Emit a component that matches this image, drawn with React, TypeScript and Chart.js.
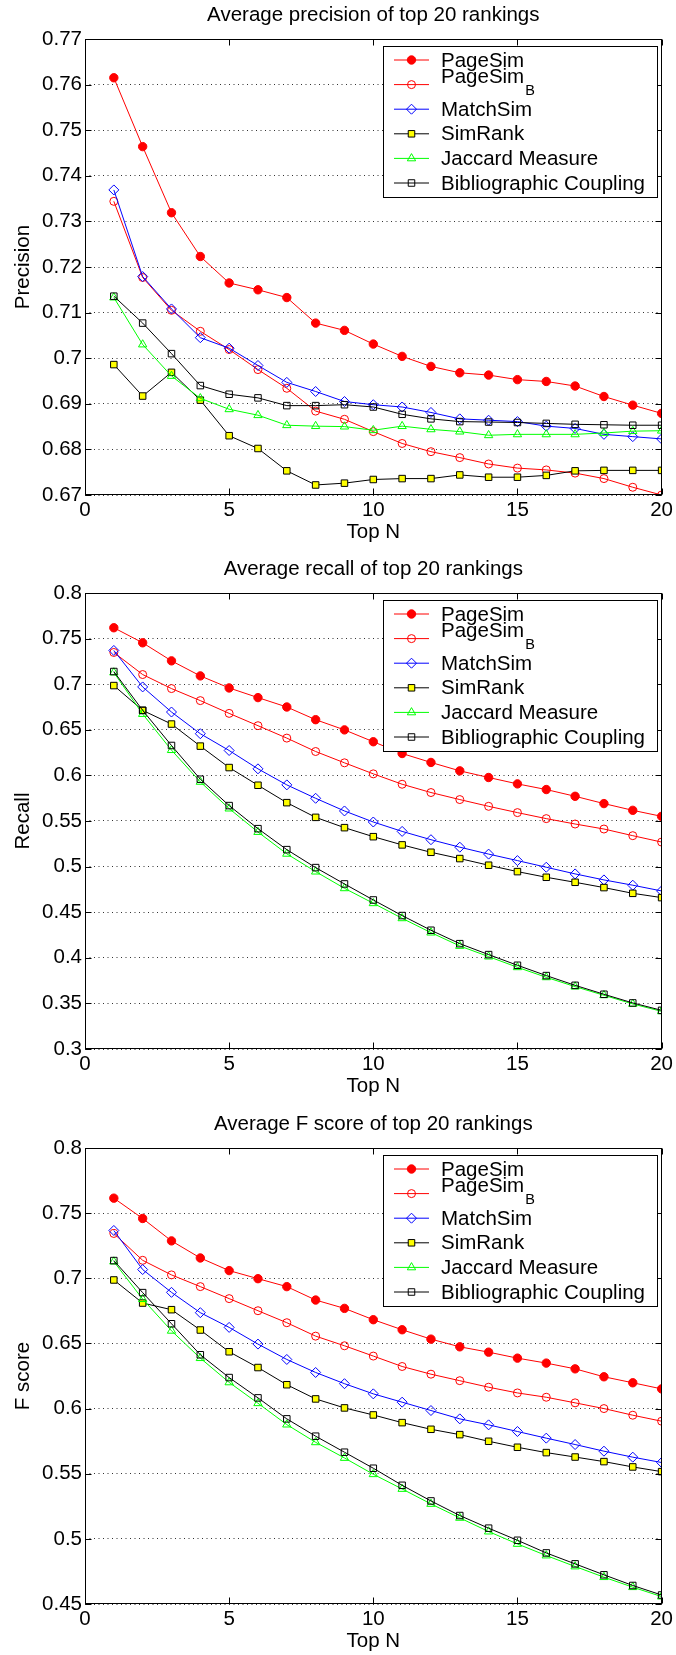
import React, { useEffect, useRef } from 'react';
import { Chart, registerables } from 'chart.js';

Chart.register(...registerables);

const FONT = '"Liberation Sans", Arial, Helvetica, sans-serif';
Chart.defaults.font.family = FONT;
Chart.defaults.color = '#000';

// ---------- data ----------
const topN = [1, 2, 3, 4, 5, 6, 7, 8, 9, 10, 11, 12, 13, 14, 15, 16, 17, 18, 19, 20];
const xTicks = [0, 5, 10, 15, 20];

const seriesNames = ['PageSim', 'PageSimB', 'MatchSim', 'SimRank', 'Jaccard Measure', 'Bibliographic Coupling'];

const precisionPageSim = [0.7615, 0.7464, 0.7319, 0.7223, 0.7165, 0.7150, 0.7133, 0.7077, 0.7061, 0.7031, 0.7004, 0.6982, 0.6968, 0.6963, 0.6953, 0.6949, 0.6939, 0.6916, 0.6897, 0.6879];
const precisionPageSimB = [0.7344, 0.7177, 0.7105, 0.7059, 0.7019, 0.6975, 0.6934, 0.6884, 0.6866, 0.6839, 0.6813, 0.6795, 0.6782, 0.6768, 0.6759, 0.6755, 0.6748, 0.6736, 0.6717, 0.6700];
const precisionMatchSim = [0.7369, 0.7179, 0.7108, 0.7045, 0.7022, 0.6984, 0.6947, 0.6927, 0.6905, 0.6898, 0.6893, 0.6881, 0.6867, 0.6864, 0.6861, 0.6851, 0.6846, 0.6833, 0.6828, 0.6823];
const precisionSimRank = [0.6986, 0.6917, 0.6969, 0.6908, 0.6830, 0.6802, 0.6753, 0.6722, 0.6726, 0.6734, 0.6736, 0.6736, 0.6744, 0.6739, 0.6739, 0.6743, 0.6753, 0.6754, 0.6754, 0.6754];
const precisionJaccard = [0.7133, 0.7030, 0.6961, 0.6912, 0.6888, 0.6875, 0.6853, 0.6851, 0.6850, 0.6842, 0.6851, 0.6844, 0.6839, 0.6831, 0.6833, 0.6833, 0.6833, 0.6836, 0.6840, 0.6841];
const precisionBibCoupling = [0.7136, 0.7077, 0.7010, 0.6940, 0.6921, 0.6913, 0.6896, 0.6896, 0.6898, 0.6893, 0.6877, 0.6867, 0.6861, 0.6860, 0.6859, 0.6857, 0.6855, 0.6854, 0.6853, 0.6853];

const recallPageSim = [0.7619, 0.7454, 0.7256, 0.7091, 0.6959, 0.6853, 0.6750, 0.6611, 0.6499, 0.6369, 0.6240, 0.6142, 0.6050, 0.5977, 0.5907, 0.5845, 0.5771, 0.5691, 0.5617, 0.5551];
const recallPageSimB = [0.7348, 0.7106, 0.6952, 0.6820, 0.6680, 0.6545, 0.6409, 0.6262, 0.6138, 0.6017, 0.5903, 0.5812, 0.5735, 0.5661, 0.5592, 0.5526, 0.5467, 0.5412, 0.5339, 0.5269];
const recallMatchSim = [0.7370, 0.6970, 0.6695, 0.6457, 0.6273, 0.6072, 0.5896, 0.5749, 0.5610, 0.5489, 0.5386, 0.5295, 0.5213, 0.5137, 0.5066, 0.4993, 0.4920, 0.4854, 0.4796, 0.4733];
const recallSimRank = [0.6985, 0.6713, 0.6563, 0.6321, 0.6086, 0.5892, 0.5701, 0.5540, 0.5427, 0.5328, 0.5238, 0.5157, 0.5088, 0.5015, 0.4945, 0.4883, 0.4828, 0.4770, 0.4707, 0.4660];
const recallJaccard = [0.7128, 0.6673, 0.6277, 0.5929, 0.5636, 0.5379, 0.5140, 0.4945, 0.4762, 0.4598, 0.4433, 0.4276, 0.4130, 0.4013, 0.3896, 0.3786, 0.3684, 0.3589, 0.3494, 0.3413];
const recallBibCoupling = [0.7139, 0.6713, 0.6328, 0.5958, 0.5669, 0.5416, 0.5186, 0.4989, 0.4810, 0.4634, 0.4463, 0.4302, 0.4155, 0.4035, 0.3918, 0.3805, 0.3698, 0.3600, 0.3505, 0.3424];

const fscorePageSim = [0.7615, 0.7459, 0.7287, 0.7156, 0.7059, 0.6997, 0.6936, 0.6833, 0.6769, 0.6682, 0.6605, 0.6533, 0.6474, 0.6433, 0.6387, 0.6349, 0.6305, 0.6244, 0.6198, 0.6151];
const fscorePageSimB = [0.7344, 0.7138, 0.7026, 0.6936, 0.6844, 0.6751, 0.6659, 0.6556, 0.6482, 0.6403, 0.6323, 0.6264, 0.6214, 0.6164, 0.6120, 0.6087, 0.6044, 0.6000, 0.5949, 0.5903];
const fscoreMatchSim = [0.7367, 0.7067, 0.6892, 0.6736, 0.6623, 0.6495, 0.6377, 0.6277, 0.6191, 0.6113, 0.6049, 0.5985, 0.5921, 0.5875, 0.5824, 0.5773, 0.5724, 0.5673, 0.5627, 0.5586];
const fscoreSimRank = [0.6987, 0.6810, 0.6759, 0.6603, 0.6436, 0.6315, 0.6183, 0.6074, 0.6005, 0.5951, 0.5892, 0.5841, 0.5800, 0.5749, 0.5703, 0.5662, 0.5628, 0.5593, 0.5552, 0.5516];
const fscoreJaccard = [0.7128, 0.6840, 0.6597, 0.6387, 0.6201, 0.6041, 0.5877, 0.5741, 0.5621, 0.5496, 0.5383, 0.5268, 0.5161, 0.5056, 0.4961, 0.4872, 0.4788, 0.4706, 0.4629, 0.4557];
const fscoreBibCoupling = [0.7136, 0.6890, 0.6651, 0.6413, 0.6238, 0.6082, 0.5921, 0.5788, 0.5665, 0.5542, 0.5411, 0.5291, 0.5179, 0.5082, 0.4989, 0.4892, 0.4808, 0.4724, 0.4642, 0.4569];

const precisionTicks = [0.67, 0.68, 0.69, 0.7, 0.71, 0.72, 0.73, 0.74, 0.75, 0.76, 0.77];
const recallTicks = [0.3, 0.35, 0.4, 0.45, 0.5, 0.55, 0.6, 0.65, 0.7, 0.75, 0.8];
const fscoreTicks = [0.45, 0.5, 0.55, 0.6, 0.65, 0.7, 0.75, 0.8];

const panels = [
  {
    title: 'Average precision of top 20 rankings',
    yLabel: 'Precision',
    ticks: precisionTicks,
    series: [precisionPageSim, precisionPageSimB, precisionMatchSim, precisionSimRank, precisionJaccard, precisionBibCoupling],
  },
  {
    title: 'Average recall of top 20 rankings',
    yLabel: 'Recall',
    ticks: recallTicks,
    series: [recallPageSim, recallPageSimB, recallMatchSim, recallSimRank, recallJaccard, recallBibCoupling],
  },
  {
    title: 'Average F score of top 20 rankings',
    yLabel: 'F score',
    ticks: fscoreTicks,
    series: [fscorePageSim, fscorePageSimB, fscoreMatchSim, fscoreSimRank, fscoreJaccard, fscoreBibCoupling],
  },
];

// ---------- styles ----------
const NONE = 'rgba(0,0,0,0)';
const styles = [
  { color: '#ff0000', point: 'circle', radius: 4.2, fill: '#ff0000' },
  { color: '#ff0000', point: 'circle', radius: 4, fill: NONE },
  { color: '#0000ff', point: 'rectRot', radius: 5, fill: NONE },
  { color: '#000000', point: 'rect', radius: 4.6, fill: '#ffff00' },
  { color: '#00ff00', point: 'triangle', radius: 4.8, fill: NONE },
  { color: '#000000', point: 'rect', radius: 4.6, fill: NONE },
];

const CANVAS_W = 676;
const CANVAS_H = 554;
const panelTops = [0, 554, 1109];

function drawMarker(ctx: CanvasRenderingContext2D, kind: string, x: number, y: number, r: number, fill: string, stroke: string) {
  ctx.beginPath();
  if (kind === 'circle') {
    ctx.arc(x, y, r, 0, Math.PI * 2);
  } else if (kind === 'rectRot') {
    ctx.moveTo(x, y - r);
    ctx.lineTo(x + r, y);
    ctx.lineTo(x, y + r);
    ctx.lineTo(x - r, y);
    ctx.closePath();
  } else if (kind === 'rect') {
    const s = Math.SQRT1_2 * r;
    ctx.rect(x - s, y - s, 2 * s, 2 * s);
  } else if (kind === 'triangle') {
    let a = 0;
    ctx.moveTo(x + Math.sin(a) * r, y - Math.cos(a) * r);
    a += (2 * Math.PI) / 3;
    ctx.lineTo(x + Math.sin(a) * r, y - Math.cos(a) * r);
    a += (2 * Math.PI) / 3;
    ctx.lineTo(x + Math.sin(a) * r, y - Math.cos(a) * r);
    ctx.closePath();
  }
  ctx.fillStyle = fill;
  ctx.fill();
  ctx.lineWidth = 1;
  ctx.strokeStyle = stroke;
  ctx.stroke();
}

const framePlugin = {
  id: 'matlabFrame',
  afterDraw(chart: any) {
    const { ctx, chartArea: a, scales } = chart;
    ctx.save();
    ctx.strokeStyle = '#000';
    ctx.lineWidth = 1;
    const L = Math.round(a.left) + 0.5;
    const R = Math.round(a.right) - 0.5;
    const T = Math.round(a.top) + 0.5;
    const B = Math.round(a.bottom) - 0.5;
    ctx.strokeRect(L, T, R - L, B - T);
    const tl = 6;
    ctx.beginPath();
    scales.y.ticks.forEach((t: any) => {
      const py = Math.round(scales.y.getPixelForValue(t.value)) + 0.5;
      ctx.moveTo(L, py); ctx.lineTo(L + tl, py);
      ctx.moveTo(R, py); ctx.lineTo(R - tl, py);
    });
    scales.x.ticks.forEach((t: any) => {
      const px = Math.round(scales.x.getPixelForValue(t.value)) + 0.5;
      ctx.moveTo(px, B); ctx.lineTo(px, B - tl);
      ctx.moveTo(px, T); ctx.lineTo(px, T + tl);
    });
    ctx.stroke();

    // legend
    const bx = 383.5, by = Math.round(a.top) + 7.5, bw = 274, bh = 151;
    ctx.fillStyle = '#fff';
    ctx.fillRect(bx, by, bw, bh);
    ctx.strokeStyle = '#000';
    ctx.strokeRect(bx, by, bw, bh);
    const big = `20.5px ${FONT}`;
    const small = `14.5px ${FONT}`;
    seriesNames.forEach((name, i) => {
      const st = styles[i];
      const cy = by + 13.5 + 24.6 * i;
      ctx.beginPath();
      ctx.strokeStyle = st.color;
      ctx.lineWidth = 1;
      ctx.moveTo(394, cy); ctx.lineTo(429, cy);
      ctx.stroke();
      drawMarker(ctx, st.point, 411.5, cy, st.radius, st.fill === NONE ? NONE : st.fill, st.color);
      ctx.fillStyle = '#000';
      ctx.textBaseline = 'middle';
      ctx.textAlign = 'left';
      if (name === 'PageSimB') {
        ctx.font = big;
        ctx.fillText('PageSim', 441, cy - 7.5);
        const w = ctx.measureText('PageSim').width;
        ctx.font = small;
        ctx.fillText('B', 441 + w + 1, cy + 6);
      } else {
        ctx.font = big;
        ctx.fillText(name, 441, cy + 1);
      }
    });
    ctx.restore();
  },
};

function Panel({ index }: { index: number }) {
  const ref = useRef<HTMLCanvasElement | null>(null);
  useEffect(() => {
    const p = panels[index];
    const yMin = p.ticks[0];
    const yMax = p.ticks[p.ticks.length - 1];
    const datasets = p.series.map((vals, i) => {
      const st = styles[i];
      return {
        label: seriesNames[i],
        data: vals.map((v, k) => ({ x: topN[k], y: v })),
        borderColor: st.color,
        borderWidth: 1,
        pointStyle: st.point,
        pointRadius: st.radius,
        pointBorderWidth: 1,
        pointBorderColor: st.color,
        pointBackgroundColor: st.fill,
        tension: 0,
        fill: false,
        order: 6 - i,
      };
    });
    const chart = new Chart(ref.current as HTMLCanvasElement, {
      type: 'line',
      data: { datasets } as any,
      options: {
        animation: false,
        responsive: false,
        devicePixelRatio: 1,
        events: [],
        layout: { padding: { left: 0, right: 13, top: 0, bottom: 0 } },
        plugins: {
          legend: { display: false },
          tooltip: { enabled: false },
          title: {
            display: true,
            text: p.title,
            fullSize: false,
            color: '#000',
            font: { size: 20.5, weight: 'normal', family: FONT },
            padding: { top: 2.7, bottom: 11.7 },
          },
        },
        scales: {
          x: {
            type: 'linear',
            min: 0,
            max: 20,
            afterBuildTicks: (s: any) => { s.ticks = xTicks.map((v) => ({ value: v })); },
            afterFit: (s: any) => { s.height = 59; },
            grid: { display: false, drawTicks: false },
            border: { display: false },
            ticks: { padding: 3, color: '#000', font: { size: 20.5, family: FONT }, maxRotation: 0, autoSkip: false },
            title: { display: true, text: 'Top N', color: '#000', font: { size: 20.5, family: FONT }, padding: { top: 0, bottom: 9.7 } },
          },
          y: {
            type: 'linear',
            min: yMin,
            max: yMax,
            afterBuildTicks: (s: any) => { s.ticks = p.ticks.map((v) => ({ value: v })); },
            afterFit: (s: any) => { s.width = 85; },
            grid: { display: true, drawTicks: false, color: '#333', lineWidth: 1 },
            border: { display: false, dash: [1, 3.5] },
            ticks: {
              padding: 3,
              color: '#000',
              font: { size: 20.5, family: FONT },
              autoSkip: false,
              callback: (v: any) => String(Number(Number(v).toFixed(2))),
            },
            title: { display: true, text: p.yLabel, color: '#000', font: { size: 20.5, family: FONT }, padding: { top: 11.2, bottom: 0 } },
          },
        },
      } as any,
      plugins: [framePlugin],
    });
    return () => chart.destroy();
  }, [index]);
  return (
    <canvas
      ref={ref}
      width={CANVAS_W}
      height={CANVAS_H}
      style={{ position: 'absolute', left: 0, top: panelTops[index], width: CANVAS_W, height: CANVAS_H, display: 'block' }}
    />
  );
}

export default function App() {
  return (
    <div style={{ position: 'absolute', left: 0, top: 0, width: 676, height: 1655, overflow: 'hidden', background: '#fff' }}>
      <Panel index={0} />
      <Panel index={1} />
      <Panel index={2} />
    </div>
  );
}
